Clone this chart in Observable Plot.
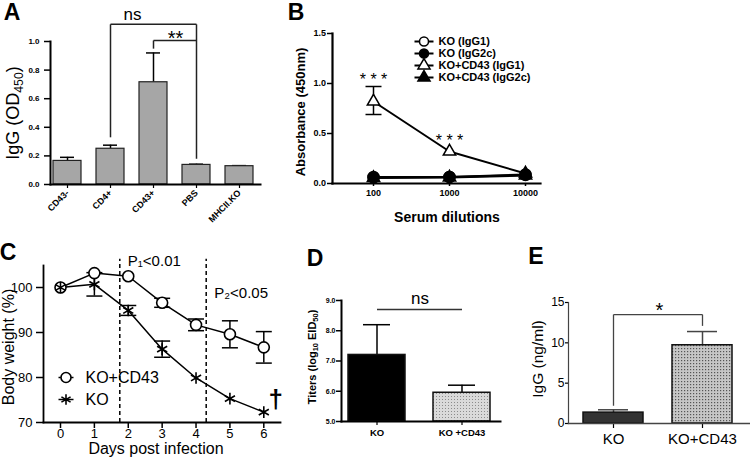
<!DOCTYPE html>
<html><head><meta charset="utf-8">
<script src="https://cdn.jsdelivr.net/npm/d3@7"></script>
<script src="https://cdn.jsdelivr.net/npm/@observablehq/plot@0.6"></script>
<style>
html,body{margin:0;padding:0;background:#fff;}
#fig{position:relative;width:750px;height:464px;overflow:hidden;background:#fff;font-family:"Liberation Sans",Arial,sans-serif;color:#000;}
.t{position:absolute;white-space:nowrap;line-height:1;}
.t sub{font-size:0.68em;vertical-align:-0.3em;line-height:0;}
</style></head><body>
<svg width="0" height="0" style="position:absolute"><defs>
<pattern id="dotsD" width="3" height="3" patternUnits="userSpaceOnUse"><rect width="3" height="3" fill="#dadada"/><rect x="1" y="1" width="1" height="1" fill="#8c8c8c"/></pattern>
<pattern id="dotsE" width="3" height="3" patternUnits="userSpaceOnUse"><rect width="3" height="3" fill="#c6c6c6"/><rect x="1" y="1" width="1.2" height="1.2" fill="#555"/></pattern>
</defs></svg>
<div id="fig"></div>
<script>
// ---------- DATA ----------
// Panel A
const aCats = ["CD43-", "CD4+", "CD43+", "PBS", "MHCII.KO"];
const aMean = [0.165, 0.25, 0.715, 0.137, 0.128];
const aErr  = [0.19, 0.275, 0.92, 0.142, 0.132];
const aYTicks = [0, 0.2, 0.4, 0.6, 0.8, 1.0];
const aBrkFrom = ["CD4+", "CD43+"], aBrkTo = ["PBS", "PBS"];
const aBrkTop = [1.12, 1.007], aBrkFootFrom = [0.33, 0.95], aBrkFootTo = [0.18, 1.007];
// Panel B
const bDil = [100, 1000, 10000];
const bSeries = ["KO (IgG1)", "KO (IgG2c)", "KO+CD43 (IgG1)", "KO+CD43 (IgG2c)"];
const bKOIgG1    = [0.065, 0.065, 0.085];
const bKOIgG2c   = [0.06, 0.065, 0.09];
const bCD43IgG1  = [0.82, 0.32, 0.10];
const bCD43IgG2c = [0.055, 0.06, 0.08];
const bErrDil = [100], bErrLo = [0.69], bErrHi = [0.97];
const bYTicks = [0, 0.5, 1.0, 1.5];
const bStarsDil = [100, 1000], bStarsY = [1.035, 0.425];
// Panel C
const cDays = [0, 1, 2, 3, 4, 5, 6];
const cSeries = ["KO+CD43", "KO"];
const cCD43    = [100, 103.2, 102.5, 96.6, 91.7, 89.6, 86.7];
const cCD43Err = [0, 0.3, 0.3, 1.0, 1.3, 3.0, 3.5];
const cKO      = [100, 100.7, 94.9, 86.3, 79.9, 75.3, 72.3];
const cKOErr   = [0, 2.6, 1.1, 1.8, 0.3, 0.3, 0.3];
const cYTicks = [70, 80, 90, 100];
const cDashDays = [1.75, 4.3];
const cNotes = ["P\u2081<0.01", "P\u2082<0.05"], cNoteY = [105.9, 98.8];
// Panel D
const dCats = ["KO", "KO +CD43"];
const dMean = [7.2, 5.95];
const dErr  = [8.2, 6.2];
const dYTicks = [5, 6, 7, 8, 9];
// Panel E
const eCats = ["KO", "KO+CD43"];
const eMean = [1.35, 9.7];
const eErr  = [1.7, 11.4];
const eYTicks = [0, 5, 10, 15];

// ---------- HELPERS ----------
const FONT = '"Liberation Sans", Arial, sans-serif';
const fig = document.getElementById("fig");
const base = {fontFamily: FONT, background: "transparent", color: "#000", overflow: "visible"};
function mount(svg, left, top) {
  svg.style.position = "absolute"; svg.style.left = left + "px"; svg.style.top = top + "px";
  fig.appendChild(svg);
}
function label(html, cx, cy, size, weight = "normal", rot = 0) {
  const d = document.createElement("div");
  d.className = "t"; d.innerHTML = html;
  d.style.left = cx + "px"; d.style.top = cy + "px"; d.style.fontSize = size + "px"; d.style.fontWeight = weight;
  d.style.transform = `translate(-50%,-50%) rotate(${rot}deg)`;
  fig.appendChild(d);
}
const capSymbol = {draw(ctx, size) { const w = Math.sqrt(size / Math.PI); ctx.moveTo(-w, 0); ctx.lineTo(w, 0); }};

// ---------- PANEL A ----------
const aData = aCats.map((cat, i) => ({cat, mean: aMean[i], err: aErr[i]}));
const aSeg = [];
aBrkFrom.forEach((f, k) => {
  aSeg.push({x1: f, x2: f, y1: aBrkFootFrom[k], y2: aBrkTop[k]});
  aSeg.push({x1: f, x2: aBrkTo[k], y1: aBrkTop[k], y2: aBrkTop[k]});
  aSeg.push({x1: aBrkTo[k], x2: aBrkTo[k], y1: aBrkTop[k], y2: aBrkFootTo[k]});
});
mount(Plot.plot({
  width: 262, height: 230, marginLeft: 50, marginTop: 41, marginBottom: 46, marginRight: 2,
  style: {...base, fontSize: "8px", fontWeight: "bold"},
  x: {type: "band", domain: aCats, range: [42.75, 263.25], paddingInner: 0.36, paddingOuter: 0.2},
  y: {domain: [0, 1], range: [184, 41]},
  marks: [
    Plot.ruleX(aData, {x: "cat", y1: "mean", y2: "err", strokeWidth: 1.5}),
    Plot.tickY(aData, {x: "cat", y: "err", strokeWidth: 1.5, insetLeft: 7, insetRight: 7}),
    Plot.barY(aData, {x: "cat", y: "mean", fill: "#a6a6a6", stroke: "#222", strokeWidth: 1.2}),
    Plot.link(aSeg, {x1: "x1", x2: "x2", y1: "y1", y2: "y2", stroke: "#222", strokeWidth: 1.5}),
    Plot.text(["ns"], {x: () => "CD43+", y: () => 1.19, text: d => d, dx: -21, fontSize: 17, fontWeight: "normal"}),
    Plot.text(["**"], {x: () => "CD43+", y: () => 1.02, text: d => d, dx: 22, fontSize: 20, fontWeight: "normal"}),
    Plot.axisY({ticks: aYTicks, tickFormat: d3.format(".1f"), tickSize: 6, tickPadding: 5, label: null, strokeWidth: 1.5, fontSize: 8, fontWeight: "bold"}),
    Plot.axisX({tickRotate: -45, tickSize: 4, tickPadding: 3, label: null, strokeWidth: 1.2, fontSize: 9, fontWeight: "bold"}),
    Plot.frame({anchor: "left", strokeWidth: 2}),
    Plot.frame({anchor: "bottom", strokeWidth: 2})
  ]
}), 0, 0);
label("A", 12, 12, 23, "bold");
label("IgG (OD<sub>450</sub>)", 13, 113, 18, "normal", -90);

// ---------- PANEL B ----------
const bVals = [bKOIgG1, bKOIgG2c, bCD43IgG1, bCD43IgG2c];
const bOrder = [2, 0, 3, 1];
const bRows = [];
bOrder.forEach(k => bDil.forEach((dil, i) => bRows.push({series: bSeries[k], dil, v: bVals[k][i]})));
const bErrRows = bErrDil.map((dil, i) => ({dil, lo: bErrLo[i], hi: bErrHi[i]}));
const bStars = bStarsDil.map((dil, i) => ({dil, y: bStarsY[i]}));
const bSymbol = {domain: bSeries, range: ["circle", "circle", "triangle", "triangle"]};
const bColor = {domain: bSeries, range: ["white", "black", "white", "black"]};
const isTri = r => r.series.startsWith("KO+CD43");
mount(Plot.plot({
  width: 488, height: 230, marginLeft: 70, marginTop: 33, marginBottom: 47, marginRight: 210,
  style: {...base, fontSize: "9px", fontWeight: "bold"},
  x: {type: "log", domain: [100, 10000], range: [111, 263]},
  y: {domain: [0, 1.5], range: [183, 33]},
  symbol: bSymbol, color: bColor,
  marks: [
    Plot.line(bRows, {x: "dil", y: "v", z: "series", stroke: "black", strokeWidth: 2}),
    Plot.ruleX(bErrRows, {x: "dil", y1: "lo", y2: "hi", strokeWidth: 1.5}),
    Plot.dot(bErrRows, {x: "dil", y: "lo", symbol: capSymbol, r: 8, stroke: "black", strokeWidth: 1.5}),
    Plot.dot(bErrRows, {x: "dil", y: "hi", symbol: capSymbol, r: 8, stroke: "black", strokeWidth: 1.5}),
    Plot.dot(bRows.filter(isTri), {x: "dil", y: "v", symbol: "series", fill: "series", stroke: "black", strokeWidth: 1.5, r: 4.6}),
    Plot.dot(bRows.filter(r => !isTri(r)), {x: "dil", y: "v", symbol: "series", fill: "series", stroke: "black", strokeWidth: 1.5, r: 5.5}),
    Plot.text(bStars, {x: "dil", y: "y", text: () => "* * *", fontSize: 16, fontWeight: "normal"}),
    Plot.axisY({ticks: bYTicks, tickFormat: d3.format(".1f"), tickSize: 5, tickPadding: 1.5, label: null, strokeWidth: 1.5, fontSize: 9, fontWeight: "bold"}),
    Plot.axisX({ticks: bDil, tickFormat: d3.format("d"), tickSize: 3, tickPadding: 3.5, label: null, strokeWidth: 1.5, fontSize: 9, fontWeight: "bold"}),
    Plot.frame({anchor: "left", strokeWidth: 2.2}),
    Plot.frame({anchor: "bottom", strokeWidth: 2.2})
  ]
}), 262, 0);
// legend B
mount(Plot.plot({
  width: 200, height: 52, margin: 0,
  style: {...base, fontSize: "11px", fontWeight: "bold"},
  x: {domain: [0, 1], range: [4, 23], axis: null},
  y: {type: "point", domain: bSeries, range: [7, 43], padding: 0, axis: null},
  symbol: bSymbol, color: bColor,
  marks: [
    Plot.link(bSeries, {x1: () => 0, x2: () => 1, y1: d => d, y2: d => d, stroke: "black", strokeWidth: 2}),
    Plot.dot(bSeries, {x: () => 0.5, y: d => d, symbol: d => d, fill: d => d, stroke: "black", strokeWidth: 1.5, r: 4.5}),
    Plot.text(bSeries, {x: () => 1, y: d => d, text: d => d, dx: 5, textAnchor: "start", fontSize: 11, fontWeight: "bold"})
  ]
}), 410, 34);
label("B", 296, 12, 23, "bold");
label("Absorbance (450nm)", 300, 112, 13, "bold", -90);
label("Serum dilutions", 447, 217, 14, "bold");

// ---------- PANEL C ----------
const cRows = [];
cDays.forEach((d, i) => cRows.push({series: "KO+CD43", day: d, v: cCD43[i], e: cCD43Err[i]}));
cDays.forEach((d, i) => cRows.push({series: "KO", day: d, v: cKO[i], e: cKOErr[i]}));
const cErrRows = cRows.filter(r => r.e > 0.5);
const cSymbol = {domain: cSeries, range: ["circle", "asterisk"]};
mount(Plot.plot({
  width: 300, height: 234, marginLeft: 43, marginTop: 35, marginBottom: 42, marginRight: 20,
  style: {...base, fontSize: "13px"},
  x: {domain: [0, 6], range: [60, 263.3]},
  y: {domain: [70, 105], range: [192, 34.5]},
  symbol: cSymbol,
  marks: [
    Plot.ruleX(cDashDays, {x: d => d, y1: () => 70, y2: () => 106.3, strokeDasharray: "4,3", strokeWidth: 1.5}),
    Plot.line(cRows, {x: "day", y: "v", z: "series", stroke: "black", strokeWidth: 1.5}),
    Plot.ruleX(cErrRows, {x: "day", y1: r => r.v - r.e, y2: r => r.v + r.e, strokeWidth: 1.5}),
    Plot.dot(cErrRows, {x: "day", y: r => r.v - r.e, symbol: capSymbol, r: 8, stroke: "black", strokeWidth: 1.5}),
    Plot.dot(cErrRows, {x: "day", y: r => r.v + r.e, symbol: capSymbol, r: 8, stroke: "black", strokeWidth: 1.5}),
    Plot.dot(cRows, {x: "day", y: "v", symbol: "series", fill: "white", stroke: "black", strokeWidth: 1.6, r: 5.5}),
    Plot.text(cNotes, {x: (d, i) => cDashDays[i], y: (d, i) => cNoteY[i], text: d => d, textAnchor: "start", dx: 8, fontSize: 15}),
    Plot.text(["\u2020"], {x: () => 6.35, y: () => 75.1, text: d => d, fontSize: 26, fontWeight: "bold"}),
    Plot.axisY({ticks: cYTicks, tickFormat: d3.format("d"), tickSize: 7, tickPadding: 4, label: null, strokeWidth: 1.5, fontSize: 13}),
    Plot.axisX({ticks: cDays, tickFormat: d3.format("d"), tickSize: 6, tickPadding: 0, label: null, strokeWidth: 1.5, fontSize: 13}),
    Plot.frame({anchor: "left", strokeWidth: 1.8}),
    Plot.frame({anchor: "bottom", strokeWidth: 1.8})
  ]
}), 0, 230);
// legend C
mount(Plot.plot({
  width: 120, height: 44, margin: 0,
  style: {...base, fontSize: "16px"},
  x: {domain: [0, 1], range: [8, 23], axis: null},
  y: {type: "point", domain: cSeries, range: [11, 33], padding: 0, axis: null},
  symbol: cSymbol,
  marks: [
    Plot.link(cSeries, {x1: () => 0, x2: () => 1, y1: d => d, y2: d => d, stroke: "black", strokeWidth: 1.5}),
    Plot.dot(cSeries, {x: () => 0.5, y: d => d, symbol: d => d, fill: "white", stroke: "black", strokeWidth: 1.6, r: 5}),
    Plot.text(cSeries, {x: () => 1, y: d => d, text: d => d, dx: 12, textAnchor: "start", fontSize: 16})
  ]
}), 50, 366);
label("C", 8, 252, 23, "bold");
label("Body weight (%)", 9, 347, 16, "normal", -90);
label("Days post infection", 156, 449, 16);

// ---------- PANEL D ----------
const dData = dCats.map((cat, i) => ({cat, mean: dMean[i], err: dErr[i]}));
mount(Plot.plot({
  width: 200, height: 234, marginLeft: 41, marginTop: 70, marginBottom: 43, marginRight: 0,
  style: {...base, fontSize: "9px", fontWeight: "bold"},
  x: {type: "band", domain: dCats, range: [30.5, 206.45], paddingInner: 0.33, paddingOuter: 0.2},
  y: {domain: [5, 9]},
  color: {domain: dCats, range: ["#000", "url(#dotsD)"]},
  marks: [
    Plot.ruleX(dData, {x: "cat", y1: "mean", y2: "err", strokeWidth: 1.5}),
    Plot.tickY(dData, {x: "cat", y: "err", strokeWidth: 1.5, insetLeft: 15, insetRight: 15}),
    Plot.barY(dData, {x: "cat", y1: () => dYTicks[0], y2: "mean", fill: "cat", stroke: "#111", strokeWidth: 1.5}),
    Plot.link([dCats], {x1: d => d[0], x2: d => d[1], y1: () => 8.7, y2: () => 8.7, stroke: "#333", strokeWidth: 1.5}),
    Plot.text(["ns"], {x: () => dCats[0], y: () => 9.07, text: d => d, dx: 43, fontSize: 17, fontWeight: "normal"}),
    Plot.axisY({ticks: dYTicks, tickSize: 5, tickPadding: 1, label: null, strokeWidth: 1.5, fontSize: 7, fontWeight: "bold"}),
    Plot.axisX({tickSize: 4, tickPadding: 4, label: null, strokeWidth: 1.2, fontSize: 9.5, fontWeight: "bold"}),
    Plot.frame({anchor: "left", strokeWidth: 2}),
    Plot.frame({anchor: "bottom", strokeWidth: 2})
  ]
}), 300, 230);
label("D", 315, 258, 23, "bold");
label("Titers (log<sub>10</sub> EID<sub>50</sub>)", 312, 357, 11, "bold", -90);

// ---------- PANEL E ----------
const eData = eCats.map((cat, i) => ({cat, mean: eMean[i], err: eErr[i]}));
const eSeg = [
  {x1: eCats[0], x2: eCats[0], y1: 2.2, y2: 13.5},
  {x1: eCats[0], x2: eCats[1], y1: 13.5, y2: 13.5},
  {x1: eCats[1], x2: eCats[1], y1: 13.5, y2: 12.1}
];
mount(Plot.plot({
  width: 250, height: 234, marginLeft: 68, marginTop: 72, marginBottom: 41, marginRight: 0,
  style: {...base, fontSize: "12px"},
  x: {type: "band", domain: eCats, range: [64.5, 251.5], paddingInner: 0.322, paddingOuter: 0.2},
  y: {domain: [0, 15]},
  color: {domain: eCats, range: ["#333", "url(#dotsE)"]},
  marks: [
    Plot.ruleX(eData, {x: "cat", y1: "mean", y2: "err", stroke: "#444", strokeWidth: 1.5}),
    Plot.tickY(eData, {x: "cat", y: "err", stroke: "#444", strokeWidth: 1.5, insetLeft: 15, insetRight: 15}),
    Plot.barY(eData, {x: "cat", y: "mean", fill: "cat", stroke: "#111", strokeWidth: 1.5}),
    Plot.link(eSeg, {x1: "x1", x2: "x2", y1: "y1", y2: "y2", stroke: "#444", strokeWidth: 1.3}),
    Plot.text(["*"], {x: () => eCats[0], y: () => 14.0, text: d => d, dx: 46, fontSize: 20}),
    Plot.axisY({ticks: eYTicks, tickSize: 3, tickPadding: 1, label: null, strokeWidth: 1.2, fontSize: 12}),
    Plot.axisX({tickSize: 5, tickPadding: 5, label: null, strokeWidth: 1.2, fontSize: 15}),
    Plot.frame({anchor: "left", stroke: "#444", strokeWidth: 1.2}),
    Plot.frame({anchor: "bottom", stroke: "#444", strokeWidth: 1.5})
  ]
}), 500, 230);
label("E", 536, 256, 23, "bold");
label("IgG (ng/ml)", 538, 359, 15.5, "normal", -90);
</script></body></html>
